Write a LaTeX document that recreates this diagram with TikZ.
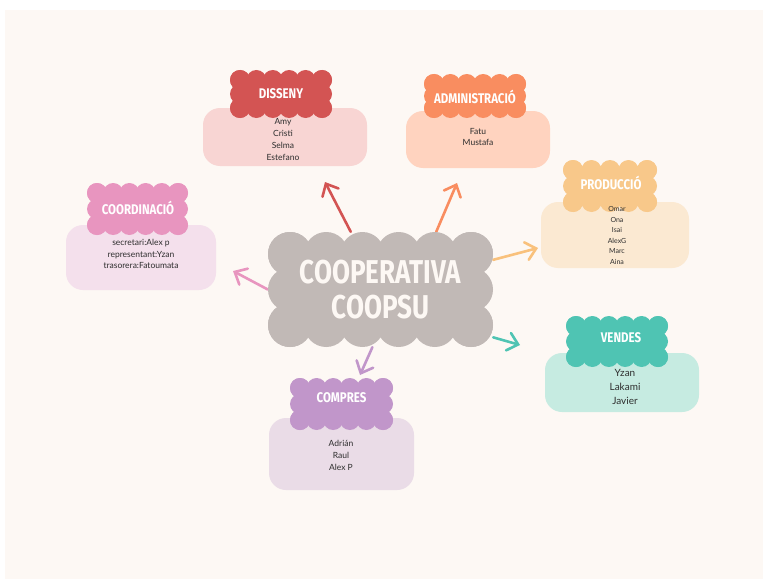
\documentclass[tikz,border=0pt]{standalone}
\usepackage{fontspec}
\setmainfont{Lato}
\newfontfamily\headfont{Fira Sans}
\usetikzlibrary{arrows.meta}

\definecolor{paper}{HTML}{FDF8F4}
\definecolor{ink}{HTML}{2E2E2E}
\definecolor{coregrey}{HTML}{C1B9B6}
\definecolor{dissenyD}{HTML}{D35453}
\definecolor{dissenyL}{HTML}{F8D5D3}
\definecolor{adminD}{HTML}{F98D60}
\definecolor{adminL}{HTML}{FFD3BF}
\definecolor{prodD}{HTML}{F8C88A}
\definecolor{prodL}{HTML}{FBE9D2}
\definecolor{coordD}{HTML}{E895BF}
\definecolor{coordL}{HTML}{F4E0EC}
\definecolor{compD}{HTML}{C196CA}
\definecolor{compL}{HTML}{EADCE7}
\definecolor{vendD}{HTML}{4FC4B3}
\definecolor{vendL}{HTML}{C6EBE1}

\pgfdeclarelayer{paperlayer}
\pgfdeclarelayer{linklayer}
\pgfsetlayers{paperlayer,linklayer,main}

% scalloped cloud: cx, cy, half width, half height, puff radius, top puffs, side puffs, colour
\newcommand\puffcloud[8]{%
  \fill[#8] ({#1-#3},{#2-#4}) rectangle ({#1+#3},{#2+#4});
  \foreach \i in {0,...,#6}{
    \fill[#8] ({#1-#3+2*#3*\i/#6},{#2-#4}) circle (#5);
    \fill[#8] ({#1-#3+2*#3*\i/#6},{#2+#4}) circle (#5);
  }
  \foreach \j in {0,...,#7}{
    \fill[#8] ({#1-#3},{#2-#4+2*#4*\j/#7}) circle (#5);
    \fill[#8] ({#1+#3},{#2-#4+2*#4*\j/#7}) circle (#5);
  }
}
\newcommand\squeeze[1]{\scalebox{0.82}[1]{#1}}

\begin{document}
\begin{tikzpicture}[
  x=1pt,y=-1pt,
  box/.style={fill=#1,rounded corners=17pt,inner sep=0pt},
  names/.style={font=\fontsize{8.5}{11.7}\selectfont,align=center,text=ink,inner sep=0pt},
  title/.style={font=\headfont\bfseries\fontsize{14}{14}\selectfont,text=white,inner sep=0pt},
  coretitle/.style={font=\headfont\bfseries\fontsize{33}{35}\selectfont,text=paper,align=center,
    inner sep=0pt,minimum width=225pt,minimum height=115pt},
  link/.style={draw=#1,line width=2.6pt,line cap=round,
    -{Straight Barb[length=10pt,width=18pt,line cap=round]}}
  ]
\useasboundingbox (0,0) rectangle (767,583);
\begin{pgfonlayer}{paperlayer}
\fill[white] (0,0) rectangle (767,583);
\fill[paper] (5,10) rectangle (763,579);
\end{pgfonlayer}

% boxes
\node[box=dissenyL,minimum width=164pt,minimum height=58pt] (dBox) at (285,137) {};
\node[box=adminL,minimum width=144pt,minimum height=57pt] (aBox) at (478,139.5) {};
\node[box=prodL,minimum width=148pt,minimum height=66pt] (pBox) at (615,235) {};
\node[box=coordL,minimum width=150pt,minimum height=65pt] (kBox) at (141,257.5) {};
\node[box=compL,minimum width=145pt,minimum height=72pt] (cBox) at (341.5,454) {};
\node[box=vendL,minimum width=154pt,minimum height=59pt] (vBox) at (622,382.5) {};

% clouds
\puffcloud{281}{94}{41}{14}{10}{5}{2}{dissenyD}
\puffcloud{475}{96}{41}{12}{10}{5}{2}{adminD}
\puffcloud{610}{186}{37}{16}{10}{4}{2}{prodD}
\puffcloud{137.5}{209}{40.5}{16}{10}{5}{2}{coordD}
\puffcloud{341.5}{404}{41.5}{16}{10}{5}{2}{compD}
\puffcloud{617}{341.5}{41}{15.5}{10}{5}{2}{vendD}
\puffcloud{380.5}{289.5}{90.5}{35.5}{22}{5}{2}{coregrey}

% members
\node[names] (dList) at (283,139.5) {Amy\\Cristi\\Selma\\Estefano};
\node[names] (aList) at (478,137) {Fatu\\Mustafa};
\node[names,font=\fontsize{7}{10.6}\selectfont] (pList) at (617,235.5) {Omar\\Ona\\Isai\\AlexG\\Marc\\Aina};
\node[names] (kList) at (141,254) {secretari:Alex p\\representant:Yzan\\trasorera:Fatoumata};
\node[names] (cList) at (341,455.5) {Adrián\\Raul\\Alex P};
\node[names,font=\fontsize{10}{14}\selectfont] (vList) at (625,387) {Yzan\\Lakami\\Javier};

\node[title] (dTitle) at (281,94) {\squeeze{DISSENY}};
\node[title] (aTitle) at (475,97) {\squeeze{ADMINISTRACIÓ}};
\node[title] (pTitle) at (611,183) {\squeeze{PRODUCCIÓ}};
\node[title] (kTitle) at (138,208) {\squeeze{COORDINACIÓ}};
\node[title] (cTitle) at (341.5,398) {\squeeze{COMPRES}};
\node[title] (vTitle) at (621,338) {\squeeze{VENDES}};
\node[coretitle] (core) at (380.5,289.5) {\scalebox{0.79}[1]{COOPERATIVA}\\\scalebox{0.79}[1]{COOPSU}};

% arrow ends
\coordinate (dTip) at (325,182);
\coordinate (aTip) at (457,183);
\coordinate (pTip) at (538,248);
\coordinate (vTip) at (520,345);
\coordinate (cTip) at (360,375);
\coordinate (kTip) at (233,271);

\begin{pgfonlayer}{linklayer}
\draw[link=dissenyD] (core) -- (dTip);
\draw[link=adminD] (core.46) -- (aTip);
\draw[link=prodD!90!orange] (core) -- (pTip);
\draw[link=vendD] (core.337) -- (vTip);
\draw[link=compD] (core.262) -- (cTip);
\draw[link=coordD] (core.west) -- (kTip);
\end{pgfonlayer}
\end{tikzpicture}
\end{document}
